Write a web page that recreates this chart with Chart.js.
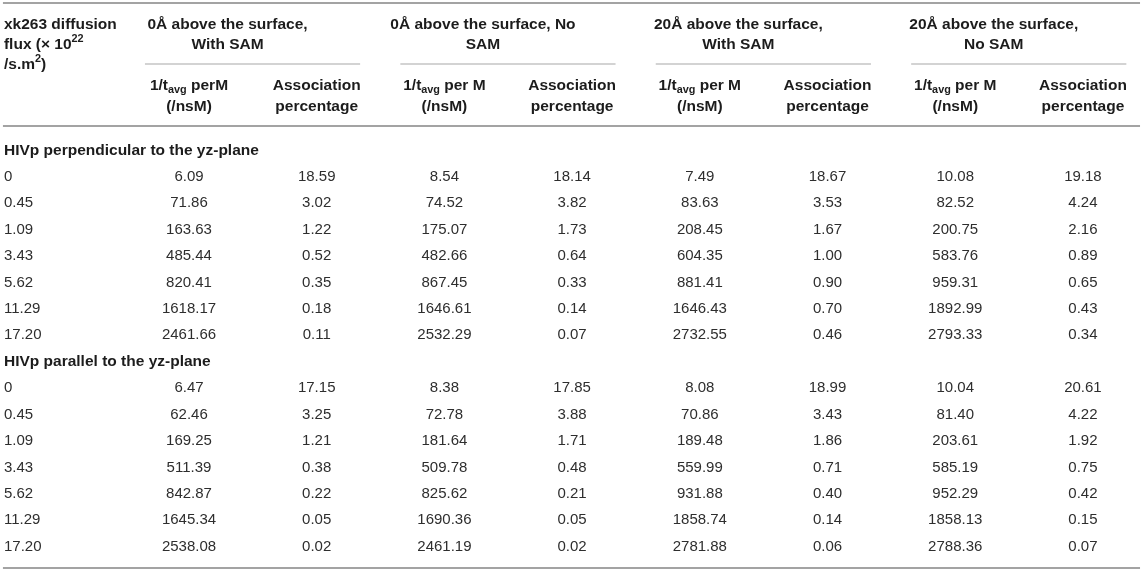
<!DOCTYPE html>
<html><head><meta charset="utf-8">
<script src="https://cdn.jsdelivr.net/npm/chart.js@4.4.1/dist/chart.umd.min.js"></script>
<style>html,body{margin:0;padding:0;background:#fff}#wrap{width:1145px;height:571px;position:relative}</style>
</head><body><div id="wrap"><canvas id="c" width="1145" height="571"></canvas></div>
<script>
// ---------- data ----------
const fluxLabels = ['0', '0.45', '1.09', '3.43', '5.62', '11.29', '17.20'];
const sectionTitles = ['HIVp perpendicular to the yz-plane', 'HIVp parallel to the yz-plane'];
const groupTitles = [
  ['0Å above the surface,', 'With SAM'],
  ['0Å above the surface, No', 'SAM'],
  ['20Å above the surface,', 'With SAM'],
  ['20Å above the surface,', 'No SAM']
];
const rateUnitsPer = [' perM', ' per M', ' per M', ' per M'];

// HIVp perpendicular to the yz-plane
const perpRate0With  = [6.09, 71.86, 163.63, 485.44, 820.41, 1618.17, 2461.66];
const perpAssoc0With = [18.59, 3.02, 1.22, 0.52, 0.35, 0.18, 0.11];
const perpRate0No    = [8.54, 74.52, 175.07, 482.66, 867.45, 1646.61, 2532.29];
const perpAssoc0No   = [18.14, 3.82, 1.73, 0.64, 0.33, 0.14, 0.07];
const perpRate20With = [7.49, 83.63, 208.45, 604.35, 881.41, 1646.43, 2732.55];
const perpAssoc20With= [18.67, 3.53, 1.67, 1.00, 0.90, 0.70, 0.46];
const perpRate20No   = [10.08, 82.52, 200.75, 583.76, 959.31, 1892.99, 2793.33];
const perpAssoc20No  = [19.18, 4.24, 2.16, 0.89, 0.65, 0.43, 0.34];

// HIVp parallel to the yz-plane
const parRate0With   = [6.47, 62.46, 169.25, 511.39, 842.87, 1645.34, 2538.08];
const parAssoc0With  = [17.15, 3.25, 1.21, 0.38, 0.22, 0.05, 0.02];
const parRate0No     = [8.38, 72.78, 181.64, 509.78, 825.62, 1690.36, 2461.19];
const parAssoc0No    = [17.85, 3.88, 1.71, 0.48, 0.21, 0.05, 0.02];
const parRate20With  = [8.08, 70.86, 189.48, 559.99, 931.88, 1858.74, 2781.88];
const parAssoc20With = [18.99, 3.43, 1.86, 0.71, 0.40, 0.14, 0.06];
const parRate20No    = [10.04, 81.40, 203.61, 585.19, 952.29, 1858.13, 2788.36];
const parAssoc20No   = [20.61, 4.22, 1.92, 0.75, 0.42, 0.15, 0.07];

const perpColumns = [perpRate0With, perpAssoc0With, perpRate0No, perpAssoc0No, perpRate20With, perpAssoc20With, perpRate20No, perpAssoc20No];
const parColumns  = [parRate0With, parAssoc0With, parRate0No, parAssoc0No, parRate20With, parAssoc20With, parRate20No, parAssoc20No];

// ---------- layout (in scale units) ----------
const FONT = '"Liberation Sans", Arial, Helvetica, sans-serif';
const LABEL_X = -1.449;      // first column left edge
const LINE_X0 = -1.457, LINE_X1 = 7.447;
const Y = { top: -5.524, h1: -4.767, h2: -4.011, h3: -3.254, gline: -3.216, s1: -2.459, s2: -1.665, hline: -0.870, bottom: 15.853 };
const BOLD = '#1c1c1c', REG = '#2e2e2e';

// ---------- datasets: one per table column ----------
const datasets = [];
function addColumn(values, colX, rows, fmt, style) {
  datasets.push({
    data: values.map((v, i) => ({ x: colX, y: rows[i], t: fmt(v) })),
    pointRadius: 0, pointHoverRadius: 0, showLine: false,
    cell: style
  });
}
const num = v => v.toFixed(2);
const str = v => v;
[perpColumns, parColumns].forEach((cols, s) => {
  const rows = fluxLabels.map((_, i) => s * 8 + 1 + i);
  addColumn(fluxLabels, LABEL_X, rows, str, { align: 'left', weight: 'normal' });
  cols.forEach((col, c) => addColumn(col, c, rows, num, { align: 'center', weight: 'normal' }));
});
addColumn(sectionTitles, LABEL_X, [0, 8], str, { align: 'left', weight: 'bold' });

function drawRich(ctx, parts, x, yc, align, size, weight, color) {
  const sm = size * 0.7;
  const fonts = parts.map(p => `${weight} ${p[1] ? sm : size}px ${FONT}`);
  let w = 0;
  parts.forEach((p, i) => { ctx.font = fonts[i]; w += ctx.measureText(p[0]).width; });
  let sx = align === 'center' ? x - w / 2 : (align === 'right' ? x - w : x);
  const base = yc + size * 0.36;
  ctx.textAlign = 'left'; ctx.textBaseline = 'alphabetic'; ctx.fillStyle = color;
  parts.forEach((p, i) => {
    ctx.font = fonts[i];
    const dy = p[1] === 1 ? -size * 0.40 : (p[1] === -1 ? size * 0.24 : 0);
    ctx.fillText(p[0], sx, base + dy);
    sx += ctx.measureText(p[0]).width;
  });
}

const tablePlugin = {
  id: 'tablePlugin',
  beforeDatasetsDraw(chart) {
    const ctx = chart.ctx, xs = chart.scales.x, ys = chart.scales.y;
    ctx.save();
    const hl = (x0, x1, yv, w, col) => {
      const py = ys.getPixelForValue(yv);
      ctx.beginPath(); ctx.lineWidth = w; ctx.strokeStyle = col;
      ctx.moveTo(xs.getPixelForValue(x0), py); ctx.lineTo(xs.getPixelForValue(x1), py); ctx.stroke();
    };
    hl(LINE_X0, LINE_X1, Y.top, 2, '#a3a3a3');
    hl(LINE_X0, LINE_X1, Y.hline, 2, '#a3a3a3');
    hl(LINE_X0, LINE_X1, Y.bottom, 2, '#a3a3a3');
    for (let g = 0; g < 4; g++) hl(2 * g - 0.345, 2 * g + 1 + 0.34, Y.gline, 1.5, '#c4c4c4');

    // header texts
    const lx = xs.getPixelForValue(LABEL_X);
    drawRich(ctx, [['xk263 diffusion', 0]], lx, ys.getPixelForValue(Y.h1), 'left', 15.5, 'bold', BOLD);
    drawRich(ctx, [['flux (× 10', 0], ['22', 1]], lx, ys.getPixelForValue(Y.h2), 'left', 15.5, 'bold', BOLD);
    drawRich(ctx, [['/s.m', 0], ['2', 1], [')', 0]], lx, ys.getPixelForValue(Y.h3), 'left', 15.5, 'bold', BOLD);
    groupTitles.forEach((lines, g) => {
      const cx = (xs.getPixelForValue(2 * g - 0.345) + xs.getPixelForValue(2 * g + 1.34)) / 2 - 25;
      drawRich(ctx, [[lines[0], 0]], cx, ys.getPixelForValue(Y.h1), 'center', 15.5, 'bold', BOLD);
      drawRich(ctx, [[lines[1], 0]], cx, ys.getPixelForValue(Y.h2), 'center', 15.5, 'bold', BOLD);
      const c1 = xs.getPixelForValue(2 * g), c2 = xs.getPixelForValue(2 * g + 1);
      drawRich(ctx, [['1/t', 0], ['avg', -1], [rateUnitsPer[g], 0]], c1, ys.getPixelForValue(Y.s1), 'center', 15.5, 'bold', BOLD);
      drawRich(ctx, [['(/nsM)', 0]], c1, ys.getPixelForValue(Y.s2), 'center', 15.5, 'bold', BOLD);
      drawRich(ctx, [['Association', 0]], c2, ys.getPixelForValue(Y.s1), 'center', 15.5, 'bold', BOLD);
      drawRich(ctx, [['percentage', 0]], c2, ys.getPixelForValue(Y.s2), 'center', 15.5, 'bold', BOLD);
    });
    ctx.restore();
  },
  afterDatasetsDraw(chart) {
    const ctx = chart.ctx;
    ctx.save();
    chart.data.datasets.forEach((ds, di) => {
      const meta = chart.getDatasetMeta(di);
      meta.data.forEach((el, i) => {
        const bold = ds.cell.weight === 'bold';
        drawRich(ctx, [[ds.data[i].t, 0]], el.x, el.y, ds.cell.align, bold ? 15.5 : 15, ds.cell.weight, bold ? BOLD : REG);
      });
    });
    ctx.restore();
  }
};

new Chart(document.getElementById('c'), {
  type: 'scatter',
  data: { datasets },
  options: {
    responsive: false, animation: false, events: [],
    layout: { padding: 0 },
    plugins: { legend: { display: false }, tooltip: { enabled: false } },
    scales: {
      x: { type: 'linear', min: -1.48, max: 7.486, display: false },
      y: { type: 'linear', min: -5.6375, max: 15.967, reverse: true, display: false }
    }
  },
  plugins: [tablePlugin]
});
</script>
</body></html>
